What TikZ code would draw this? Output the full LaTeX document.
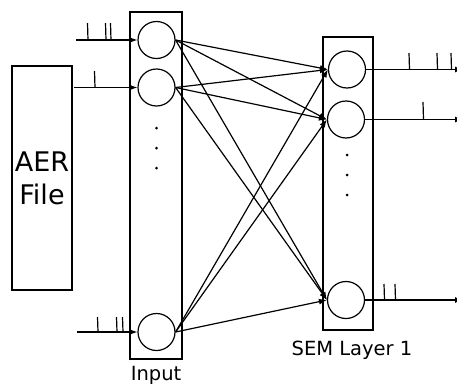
\documentclass[tikz,border=0pt]{standalone}
\usepackage{fontspec}
\setmainfont{DejaVu Sans}
\usetikzlibrary{arrows.meta}
\begin{document}
\begin{tikzpicture}[x=1pt,y=-1pt,
  neuron/.style={draw,circle,minimum size=37pt,inner sep=0pt,line width=1.2pt},
  layerbox/.style={draw,line width=1.2pt},
  conn/.style={line width=1.2pt,-{Latex[length=8pt,width=6pt]}},
  spk/.style={line width=1.2pt},
  dotmark/.style={fill,circle,inner sep=0pt,minimum size=3pt},
  lbl/.style={font=\fontsize{19.5}{22}\selectfont,anchor=base}]
\useasboundingbox (0,0) rectangle (457,383);
% boxes
\node[layerbox,minimum width=60pt,minimum height=224pt,inner sep=0pt,align=center,
      font=\fontsize{27}{33}\selectfont] (aer) at (42,178) {AER\\File};
\node[layerbox,minimum width=52pt,minimum height=347pt,inner sep=0pt] (inbox) at (156,185.5) {};
\node[layerbox,minimum width=50pt,minimum height=293pt,inner sep=0pt] (sembox) at (348,183.5) {};
% neurons
\node[neuron] (i1) at (156.5,40) {};
\node[neuron] (i2) at (156.5,87.5) {};
\node[neuron] (i3) at (156.5,332) {};
\node[neuron] (s1) at (347,69.5) {};
\node[neuron] (s2) at (346,119.5) {};
\node[neuron] (s3) at (346,300) {};
% dots
\foreach \y in {128,148,168} \node[dotmark] at (156.5,\y) {};
\foreach \y in {155,175,195} \node[dotmark] at (347,\y) {};
% labels
\node[lbl] (inlbl) at (156,380) {Input};
\node[lbl] (semlbl) at (352,355) {SEM Layer 1};
% input spike trains
\coordinate (a1) at (76,40);
\coordinate (a2) at (74,87.5);
\coordinate (a3) at (77,332);
\draw[conn] (a1) -- (i1.west);
\draw[conn] (a2) -- (i2.west);
\draw[conn] (a3) -- (i3.west);
\foreach \x in {88,106,111} \draw[spk] (\x,40) -- (\x-0.5,23);
\draw[spk] (95,87.5) -- (94.5,71);
\foreach \x in {98,117,123} \draw[spk] (\x,332) -- (\x-0.5,317);
% full connections
\foreach \i in {i1,i2,i3}
  \foreach \s in {s1,s2,s3}
    \draw[conn] (\i.east) -- (\s.west);
% outputs
\coordinate (o1) at (463,69.5);
\coordinate (o2) at (463,119.5);
\coordinate (o3) at (463,300);
\draw[conn] (s1.east) -- (o1);
\draw[conn] (s2.east) -- (o2);
\draw[conn] (s3.east) -- (o3);
\foreach \x in {409,437,451} \draw[spk] (\x+0.5,69.5) -- (\x,53);
\draw[spk] (423.5,119.5) -- (423,102);
\foreach \x in {384,395} \draw[spk] (\x+0.5,300) -- (\x,284);
\end{tikzpicture}
\end{document}
